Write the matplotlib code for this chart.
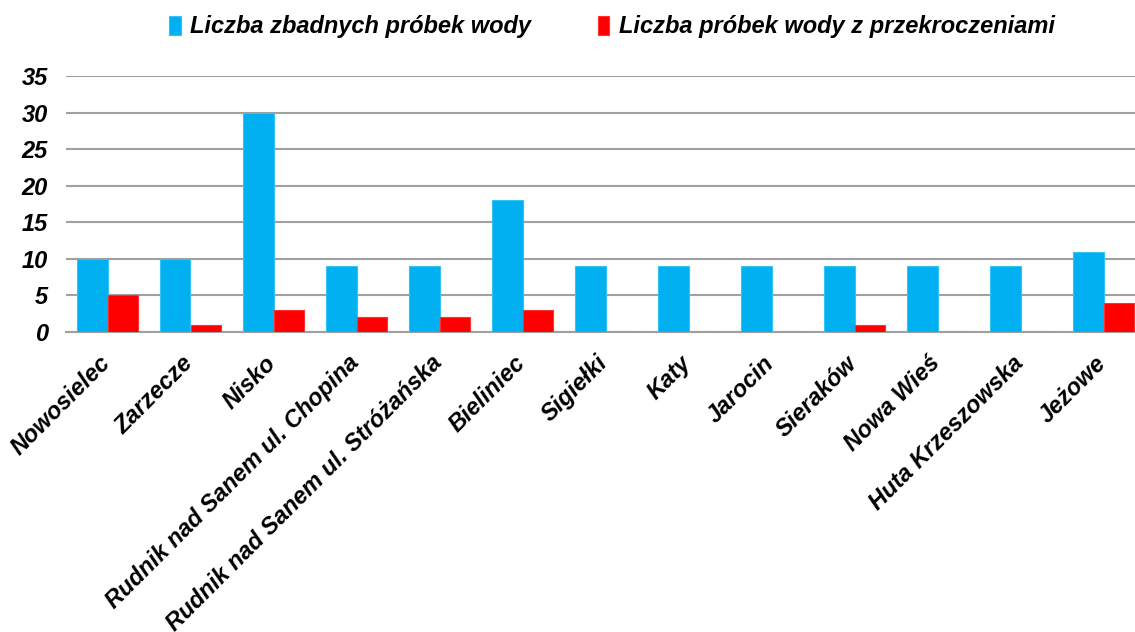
import matplotlib
matplotlib.use("Agg")
import matplotlib.pyplot as plt
import matplotlib.transforms as mtransforms
import numpy as np

categories = ["Nowosielec", "Zarzecze", "Nisko", "Rudnik nad Sanem ul. Chopina",
              "Rudnik nad Sanem ul. Stróżańska", "Bieliniec", "Sigiełki", "Katy",
              "Jarocin", "Sieraków", "Nowa Wieś", "Huta Krzeszowska", "Jeżowe"]
zbadane = [10, 10, 30, 9, 9, 18, 9, 9, 9, 9, 9, 9, 11]
przekroczenia = [5, 1, 3, 2, 2, 3, 0, 0, 0, 1, 0, 0, 4]
yticks = [0, 5, 10, 15, 20, 25, 30, 35]

plt.rcParams['font.family'] = ['Liberation Sans', 'DejaVu Sans']

fig = plt.figure(figsize=(11.35, 6.32), dpi=100)
W, H = 1135, 632
left_px, right_px = 66, 1145
top_px, bot_px = 76, 332
ax = fig.add_axes([left_px / W, 1 - bot_px / H, (right_px - left_px) / W, (bot_px - top_px) / H])

x = np.arange(len(categories))
bw = 0.365
b1 = ax.bar(x - bw / 2, zbadane, bw, color='#00B0F0', edgecolor='#33C4F5', linewidth=0.8,
            label='Liczba zbadnych próbek wody', zorder=3)
b2 = ax.bar(x + bw / 2, przekroczenia, bw, color='#FF0000', edgecolor='#FF3030', linewidth=0.8,
            label='Liczba próbek wody z przekroczeniami', zorder=3)

ax.set_xlim(-0.5, len(categories) - 0.5)
ax.set_ylim(0, 35)
ax.set_yticks(yticks)
ax.set_yticklabels([str(v) for v in yticks], fontsize=17, fontweight='bold', fontstyle='italic')
ax.yaxis.grid(True, color='#A0A0A0', linewidth=1.5, zorder=0)
ax.set_axisbelow(True)
ax.tick_params(axis='both', length=0)
ax.tick_params(axis='y', pad=13)
for s in ['top', 'right', 'left']:
    ax.spines[s].set_visible(False)
ax.spines['bottom'].set_color('#A0A0A0')
ax.spines['bottom'].set_linewidth(1.5)

ax.set_xticks(x)
ax.set_xticklabels(categories, rotation=45, ha='right', rotation_mode='anchor',
                   fontsize=17, fontweight='bold', fontstyle='italic')
ax.tick_params(axis='x', pad=14)
offset = mtransforms.ScaledTranslation(-9 / 100, 0, fig.dpi_scale_trans)
for lbl in ax.get_xticklabels():
    lbl.set_transform(lbl.get_transform() + offset)

leg = fig.legend(handles=[b1, b2], loc='center', bbox_to_anchor=(612 / W, 1 - 27 / H), ncol=2,
                 frameon=False, prop={'size': 17, 'weight': 'bold', 'style': 'italic'},
                 handlelength=0.5, handleheight=0.9, handletextpad=0.4, columnspacing=2.8)

fig.savefig("out.png", dpi=100)
